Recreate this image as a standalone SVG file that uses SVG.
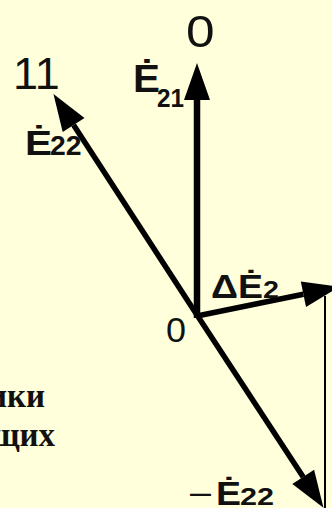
<svg xmlns="http://www.w3.org/2000/svg" width="332" height="508" viewBox="0 0 332 508">
<style>
.bg{fill:#FFFFDC}
.vec{stroke:#000;stroke-width:5.5;fill:none;marker-end:url(#ah)}
.thin{stroke:#000;stroke-width:2;fill:none}
.num{font-family:"Liberation Sans",Arial,sans-serif;fill:#111}
.lab{font-family:"Liberation Sans",Arial,sans-serif;font-weight:bold;fill:#111}
.ru{font-family:"Liberation Serif","Times New Roman",serif;font-weight:bold;fill:#111;font-size:33px}
</style>
<defs>
<marker id="ah" markerUnits="userSpaceOnUse" markerWidth="40" markerHeight="30" refX="0" refY="13" orient="auto" overflow="visible">
<path d="M0,0 L37,13 L0,26 z" fill="#000"/>
</marker>
</defs>
<rect class="bg" x="0" y="0" width="332" height="508"/>
<g id="connectors">
<line class="vec" x1="197" y1="318" x2="197" y2="100" style="stroke-width:6.5"/>
<line class="vec" x1="197" y1="315" x2="73.6" y2="125"/>
<line class="vec" x1="197" y1="315" x2="303.2" y2="476.9"/>
<line class="vec" x1="197" y1="316" x2="303.4" y2="294.2"/>
<line class="thin" x1="325" y1="296" x2="325" y2="508"/>
</g>
<g id="n-top0"><text class="num" x="186" y="47" font-size="45" textLength="28.6" lengthAdjust="spacingAndGlyphs">0</text></g>
<g id="n-11"><text class="num" x="13" y="89" font-size="45">11</text></g>
<g id="n-origin0"><text class="num" x="166" y="342" font-size="35" textLength="20" lengthAdjust="spacingAndGlyphs">0</text></g>
<g id="n-E21"><text class="lab" x="133" y="92" font-size="38" textLength="27" lengthAdjust="spacingAndGlyphs">Ė</text><text class="lab" x="157" y="107" font-size="25" textLength="27" lengthAdjust="spacingAndGlyphs">21</text></g>
<g id="n-E22"><text class="lab" x="25" y="155" font-size="35" textLength="27" lengthAdjust="spacingAndGlyphs">Ė</text><text class="lab" x="50" y="155" font-size="27" textLength="31.5" lengthAdjust="spacingAndGlyphs">22</text></g>
<g id="n-dE2"><text class="lab" x="211" y="298" font-size="33" textLength="52" lengthAdjust="spacingAndGlyphs">ΔĖ</text><text class="lab" x="263" y="298" font-size="24" textLength="16" lengthAdjust="spacingAndGlyphs">2</text></g>
<g id="n-mE22"><text class="num" x="190" y="503" font-size="33" textLength="21" lengthAdjust="spacingAndGlyphs">–</text><text class="lab" x="216" y="505" font-size="33" textLength="25" lengthAdjust="spacingAndGlyphs">Ė</text><text class="lab" x="240" y="505" font-size="24" textLength="34" lengthAdjust="spacingAndGlyphs">22</text></g>
<g id="n-text"><text class="ru" x="45" y="407" text-anchor="end">ики</text><text class="ru" x="55" y="446" text-anchor="end">щих</text></g>
</svg>
